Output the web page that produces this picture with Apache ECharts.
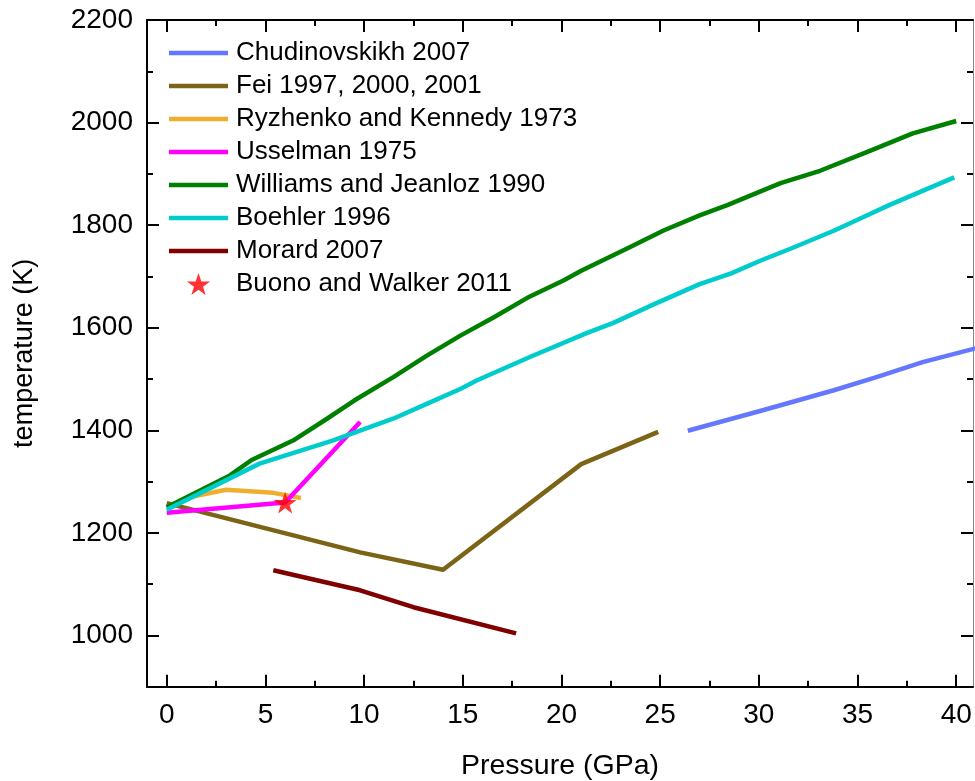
<!DOCTYPE html>
<html>
<head>
<meta charset="utf-8">
<script src="https://cdn.jsdelivr.net/npm/echarts@6/dist/echarts.min.js"></script>
<style>
  html, body { margin: 0; padding: 0; background: #fff; }
  #chart { width: 975px; height: 781px; }
</style>
</head>
<body>
<div id="chart"></div>
<script>
// Melting curves of iron sulfide: [pressure (GPa), temperature (K)]
const chudinovskikh2007 = [[26.4, 1399], [30.2, 1439], [33.8, 1478], [36.0, 1504], [38.3, 1533], [41.0, 1560]];
const fei = [[0, 1258], [9.8, 1162], [14.0, 1128], [21.0, 1334], [24.9, 1397]];
const ryzhenkoKennedy1973 = [[0, 1250], [1.2, 1270], [3.0, 1284], [5.4, 1278], [6.8, 1268]];
const usselman1975 = [[0, 1239], [6.0, 1259], [9.8, 1416]];
const williamsJeanloz1990 = [[0, 1250], [3.2, 1312], [4.3, 1342], [6.4, 1380], [8.1, 1422], [9.5, 1458],
  [11.5, 1504], [13.2, 1546], [14.9, 1585], [16.6, 1621], [18.4, 1661], [20.1, 1692], [21.0, 1711],
  [23.3, 1754], [25.2, 1790], [27.0, 1819], [28.4, 1839], [31.1, 1882], [33.1, 1906], [35.5, 1943],
  [37.8, 1979], [40.0, 2003]];
const boehler1996 = [[0, 1245], [4.7, 1335], [8.4, 1380], [11.5, 1423], [13.2, 1452], [14.9, 1481],
  [15.7, 1497], [18.4, 1543], [21.3, 1590], [22.6, 1609], [24.7, 1646], [27.0, 1685], [28.6, 1706],
  [30.1, 1731], [31.6, 1754], [33.8, 1789], [35.3, 1816], [36.6, 1839], [39.9, 1893]];
const morard2007 = [[5.4, 1127], [9.8, 1088], [12.5, 1055], [17.7, 1004]];
const buonoWalker2011 = [[6.0, 1259]];

// Tick positions
const xMajorTicks = [0, 5, 10, 15, 20, 25, 30, 35, 40];
const xMinorTicks = [2.5, 7.5, 12.5, 17.5, 22.5, 27.5, 32.5, 37.5];
const yMajorTicks = [1000, 1200, 1400, 1600, 1800, 2000, 2200];
const yMinorTicks = [1100, 1300, 1500, 1700, 1900, 2100];

const seriesNames = ['Chudinovskikh 2007', 'Fei 1997, 2000, 2001', 'Ryzhenko and Kennedy 1973',
  'Usselman 1975', 'Williams and Jeanloz 1990', 'Boehler 1996', 'Morard 2007', 'Buono and Walker 2011'];
const seriesColors = ['#6478ff', '#7b6416', '#f0ae2e', '#ff00ff', '#008000', '#00cccc', '#800000', '#ff0000'];
const lineData = [chudinovskikh2007, fei, ryzhenkoKennedy1973, usselman1975, williamsJeanloz1990, boehler1996, morard2007];

const FONT = "'Liberation Sans', Arial, sans-serif";
const X_MIN = -1, X_MAX = 40.85, Y_MIN = 900, Y_MAX = 2200;
const STAR = 'path://M50,0 L61.8,35.1 L98.1,35.1 L68.7,56.7 L79.4,91 L50,69.5 L20.6,91 L31.3,56.7 L1.9,35.1 L38.2,35.1 Z';
const LINE_ICON = 'path://M0,0 L59,0 L59,4.5 L0,4.5 Z';

function tickAxis(extra) {
  return Object.assign({
    type: 'value',
    splitLine: { show: false },
    axisLabel: { show: false },
    axisLine: { show: false, onZero: false }
  }, extra);
}

const plainNumber = v => String(v);

const xAxes = [
  tickAxis({
    position: 'bottom', min: X_MIN, max: X_MAX,
    axisLine: { show: true, onZero: false, lineStyle: { color: '#000', width: 2 } },
    axisTick: { inside: true, length: 12, lineStyle: { color: '#000', width: 2 }, customValues: xMajorTicks },
    axisLabel: { show: true, customValues: xMajorTicks, formatter: plainNumber, color: '#000', fontSize: 28, fontFamily: FONT, margin: 15 },
    name: 'Pressure (GPa)', nameLocation: 'middle', nameGap: 65,
    nameTextStyle: { color: '#000', fontSize: 28.5, fontFamily: FONT }
  }),
  tickAxis({
    position: 'bottom', min: X_MIN, max: X_MAX,
    axisTick: { inside: true, length: 6, lineStyle: { color: '#000', width: 2 }, customValues: xMinorTicks }
  }),
  tickAxis({
    position: 'top', min: X_MIN, max: X_MAX,
    axisLine: { show: true, onZero: false, lineStyle: { color: '#000', width: 2 } },
    axisTick: { inside: true, length: 12, lineStyle: { color: '#000', width: 2 }, customValues: xMajorTicks }
  }),
  tickAxis({
    position: 'top', min: X_MIN, max: X_MAX,
    axisTick: { inside: true, length: 6, lineStyle: { color: '#000', width: 2 }, customValues: xMinorTicks }
  })
];

const yAxes = [
  tickAxis({
    position: 'left', min: Y_MIN, max: Y_MAX,
    axisLine: { show: true, onZero: false, lineStyle: { color: '#000', width: 2 } },
    axisTick: { inside: true, length: 12, lineStyle: { color: '#000', width: 2 }, customValues: yMajorTicks },
    axisLabel: { show: true, customValues: yMajorTicks, formatter: plainNumber, color: '#000', fontSize: 28, fontFamily: FONT, margin: 14 },
    name: 'temperature (K)', nameLocation: 'middle', nameGap: 109,
    nameTextStyle: { color: '#000', fontSize: 27, fontFamily: FONT }
  }),
  tickAxis({
    position: 'left', min: Y_MIN, max: Y_MAX,
    axisTick: { inside: true, length: 6, lineStyle: { color: '#000', width: 2 }, customValues: yMinorTicks }
  }),
  tickAxis({
    position: 'right', min: Y_MIN, max: Y_MAX,
    axisLine: { show: true, onZero: false, lineStyle: { color: '#888', width: 1 } },
    axisTick: { inside: true, length: 12, lineStyle: { color: '#000', width: 2 }, customValues: yMajorTicks }
  }),
  tickAxis({
    position: 'right', min: Y_MIN, max: Y_MAX,
    axisTick: { inside: true, length: 6, lineStyle: { color: '#000', width: 2 }, customValues: yMinorTicks }
  })
];

const series = lineData.map((data, i) => ({
  name: seriesNames[i],
  type: 'line',
  data: data,
  xAxisIndex: 0,
  yAxisIndex: 0,
  symbol: 'none',
  smooth: false,
  animation: false,
  lineStyle: { color: seriesColors[i], width: 4.5, cap: 'butt', join: 'round' },
  itemStyle: { color: seriesColors[i] },
  z: 2 + i
}));

series.push({
  name: seriesNames[7],
  type: 'scatter',
  data: buonoWalker2011,
  xAxisIndex: 0,
  yAxisIndex: 0,
  symbol: STAR,
  symbolSize: 23,
  symbolKeepAspect: true,
  animation: false,
  itemStyle: { color: seriesColors[7] },
  z: 20
});

const legendItems = seriesNames.map((name, i) => ({
  name: name,
  icon: i < 7 ? LINE_ICON : STAR,
  itemStyle: { color: seriesColors[i] }
}));

const chart = echarts.init(document.getElementById('chart'), null, { renderer: 'canvas' });
chart.setOption({
  backgroundColor: '#fff',
  animation: false,
  grid: { left: 147, right: 2, top: 20, bottom: 94.3, containLabel: false, outerBoundsMode: 'none' },
  xAxis: xAxes,
  yAxis: yAxes,
  legend: {
    orient: 'vertical',
    left: 169,
    top: 40,
    padding: 0,
    itemWidth: 59,
    itemHeight: 22,
    itemGap: 7,
    symbolKeepAspect: true,
    textStyle: { color: '#000', fontSize: 26, fontFamily: FONT, padding: [0, 0, 0, 3] },
    data: legendItems
  },
  series: series
});
</script>
</body>
</html>
